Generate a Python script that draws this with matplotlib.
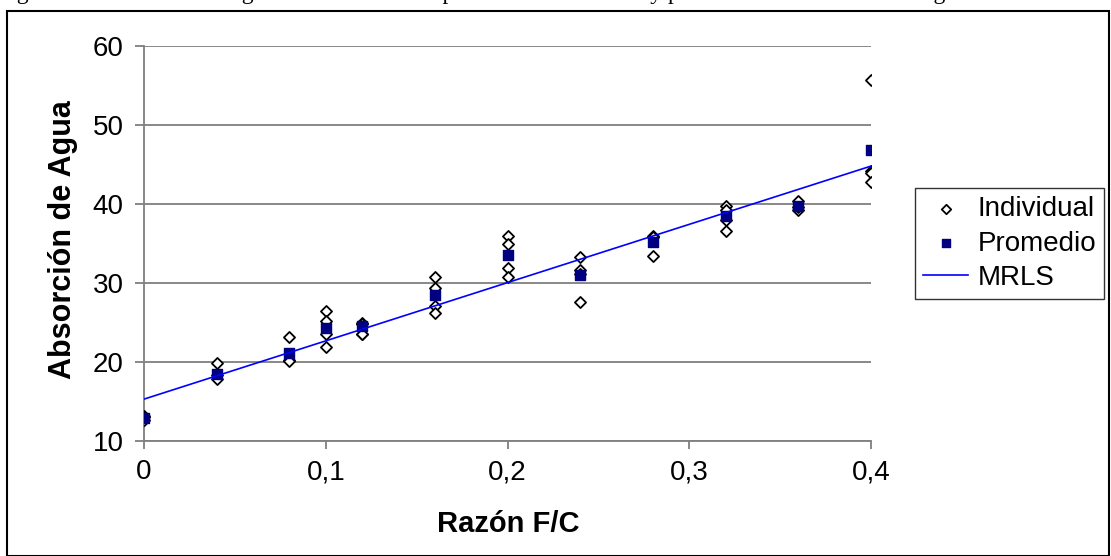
import numpy as np
import matplotlib.pyplot as plt
from matplotlib.patches import Rectangle
from matplotlib.ticker import FuncFormatter

plt.rcParams['font.family'] = ['Liberation Sans', 'DejaVu Sans']

# datos
razon_ind = [0, 0, 0,
             0.04, 0.04, 0.04,
             0.08, 0.08, 0.08,
             0.10, 0.10, 0.10, 0.10,
             0.12, 0.12, 0.12, 0.12,
             0.16, 0.16, 0.16, 0.16,
             0.20, 0.20, 0.20, 0.20,
             0.24, 0.24, 0.24, 0.24,
             0.28, 0.28, 0.28,
             0.32, 0.32, 0.32, 0.32,
             0.36, 0.36, 0.36,
             0.40, 0.40, 0.40, 0.40]
absorcion_ind = [13.2, 12.7, 13.0,
                 19.9, 18.3, 17.8,
                 23.2, 20.3, 20.1,
                 26.5, 25.2, 23.5, 21.9,
                 25.0, 24.8, 23.6, 23.5,
                 30.7, 29.4, 27.1, 26.2,
                 36.0, 34.9, 31.9, 30.7,
                 33.3, 31.6, 31.2, 27.6,
                 35.9, 35.8, 33.4,
                 39.8, 39.2, 38.0, 36.6,
                 40.4, 39.3, 39.6,
                 55.7, 44.2, 43.9, 42.8]

razon_prom = [0, 0.04, 0.08, 0.10, 0.12, 0.16, 0.20, 0.24, 0.28, 0.32, 0.36, 0.40]
absorcion_prom = [12.9, 18.5, 21.1, 24.3, 24.5, 28.5, 33.5, 31.0, 35.2, 38.5, 39.7, 46.8]

# recta MRLS
intercepto = 15.3
pendiente = 73.75
x_rango = [0, 0.4]

titulo = ("Figura 10. Absorción de agua vs. razón F/C de probetas individuales "
          "y promedio con la razón F/C igual a cero")

W, H = 1111, 556
fig = plt.figure(figsize=(W / 100, H / 100), dpi=100)
ax = fig.add_axes([144 / W, 1 - 441 / H, (871 - 144) / W, (441 - 46) / H])

gris = '#7f7f7f'
ax.scatter(razon_ind, absorcion_ind, marker='D', s=32, facecolors='white',
           edgecolors='black', linewidths=1.3, zorder=3, label='Individual')
ax.scatter(razon_prom, absorcion_prom, marker='s', s=42, color='#000080',
           zorder=4, label='Promedio')
xl = np.array(x_rango)
ax.plot(xl, intercepto + pendiente * xl, color='#0000ff', lw=1.2, zorder=5,
        label='MRLS')

ax.set_xlim(0, 0.4)
ax.set_ylim(10, 60)
ax.set_xticks(np.arange(0, 0.41, 0.1))
ax.set_yticks(range(10, 61, 10))
ax.xaxis.set_major_formatter(FuncFormatter(
    lambda v, p: '0' if v == 0 else f'{v:.1f}'.replace('.', ',')))
ax.yaxis.grid(True, color=gris, lw=1.3)
ax.set_axisbelow(True)
for s in ['top', 'right']:
    ax.spines[s].set_visible(False)
for s in ['left', 'bottom']:
    ax.spines[s].set_color(gris)
    ax.spines[s].set_linewidth(1.3)
ax.tick_params(axis='both', colors=gris, labelcolor='black', labelsize=20,
               width=1.3)
ax.tick_params(axis='y', length=6.5, pad=8)
ax.tick_params(axis='x', length=6, pad=7)
for t in ax.get_xticklabels() + ax.get_yticklabels():
    t.set_clip_on(False)

fig.text(63 / W, 1 - 240 / H, 'Absorción de Agua', fontsize=22,
         fontweight='bold', rotation=90, ha='center', va='center')
fig.text(508 / W, 1 - 524 / H, 'Razón F/C', fontsize=21,
         fontweight='bold', ha='center', va='center')

leg = fig.legend(loc='upper left', bbox_to_anchor=(915 / W, 1 - 188 / H),
                 fontsize=20, frameon=True, fancybox=False, edgecolor='black',
                 handlelength=1.6, handletextpad=0.35, borderpad=0.3,
                 labelspacing=0.3, borderaxespad=0, markerscale=0.85)
leg.get_frame().set_linewidth(1.0)

# marco exterior
fig.patches.append(Rectangle((7 / W, 0), (1109 - 7) / W, 1 - 11 / H,
                             transform=fig.transFigure, fill=False,
                             edgecolor='black', lw=1.5))
fig.text(-3 / W, 1 + 1 / H, titulo, family='Liberation Serif', fontsize=17,
         va='baseline', ha='left')

fig.savefig('out.png', dpi=100)
